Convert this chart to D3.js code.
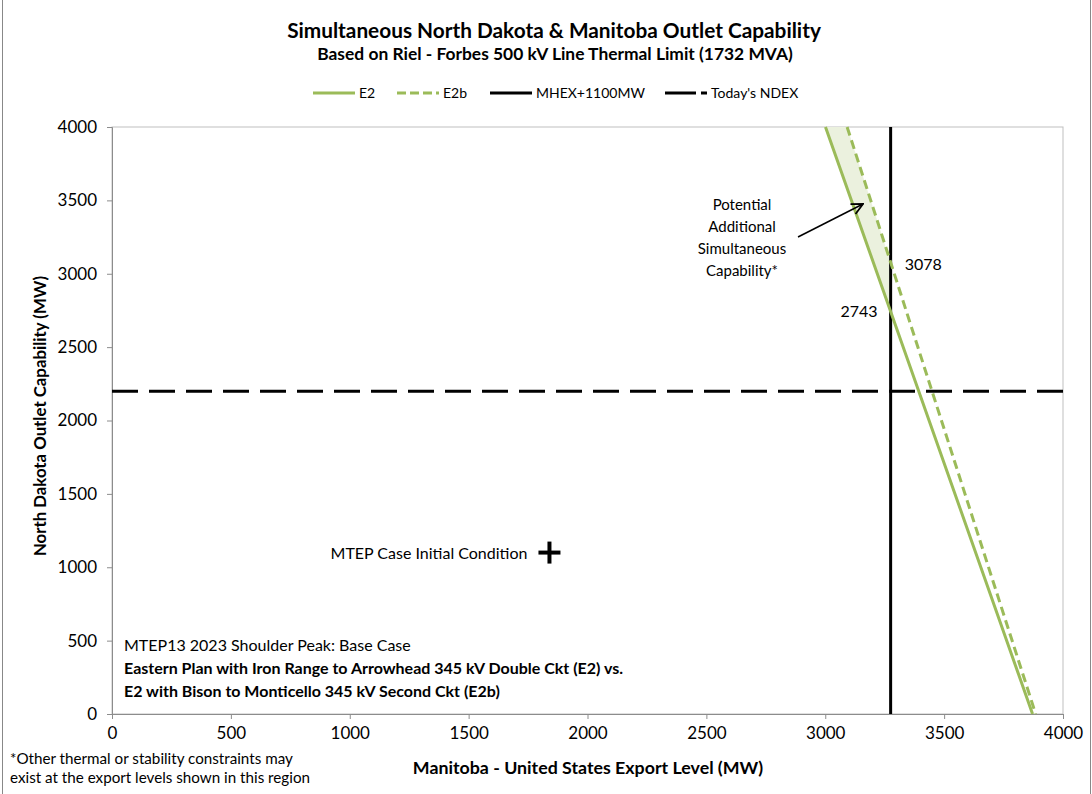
<!DOCTYPE html>
<html><head><meta charset="utf-8">
<script src="https://cdn.jsdelivr.net/npm/d3@7"></script>
<style>body{margin:0;background:#fff;font-family:Lato,"Open Sans",sans-serif;}</style>
</head><body><svg id="c" width="1092" height="794"></svg>
<script>
const xTicks = [0,500,1000,1500,2000,2500,3000,3500,4000];
const yTicks = [0,500,1000,1500,2000,2500,3000,3500,4000];
const e2X = [3001, 3275, 3872];
const e2Y = [4000, 2743, 0];
const e2bX = [3092, 3275, 3885];
const e2bY = [4000, 3078, 0];
const mhexX = [3275, 3275];
const mhexY = [0, 4000];
const ndexX = [0, 4000];
const ndexY = [2200, 2200];
const initX = [1840];
const initY = [1100];
const legendNames = ["E2","E2b","MHEX+1100MW","Today's NDEX"];

const svg = d3.select("#c");
const W=1092,H=794;
svg.append("rect").attr("x",2.5).attr("y",-2).attr("width",W-4).attr("height",H+4).attr("fill","#fff").attr("stroke","#888").attr("stroke-width",1);

const L=112,R=1063,T=127,B=714;
const x = d3.scaleLinear().domain([0,4000]).range([L,R]);
const y = d3.scaleLinear().domain([0,4000]).range([B,T]);

svg.append("rect").attr("x",L).attr("y",T).attr("width",R-L).attr("height",B-T).attr("fill","none").attr("stroke","#bfbfbf").attr("stroke-width",1);

const font = "Lato, 'Open Sans', sans-serif";
const gx = svg.append("g").attr("transform",`translate(0,${B})`).call(d3.axisBottom(x).tickValues(xTicks).tickFormat(d3.format("d")).tickSize(5).tickPadding(8));
const gy = svg.append("g").attr("transform",`translate(${L},0)`).call(d3.axisLeft(y).tickValues(yTicks).tickFormat(d3.format("d")).tickSize(5).tickPadding(10));
[gx,gy].forEach(g=>{
  g.selectAll("path,line").attr("stroke","#8c8c8c");
  g.selectAll("text").attr("font-size",17).attr("font-family",font).attr("fill","#000");
});

const fillPts = [[e2X[0],e2Y[0]],[e2bX[0],e2bY[0]],[e2bX[1],e2bY[1]],[e2X[1],e2Y[1]]];
const line = d3.line().x(d=>x(d[0])).y(d=>y(d[1]));
svg.append("path").attr("d",line(fillPts)+"Z").attr("fill","#ebf1de").attr("stroke","none");

const zip=(a,b)=>a.map((v,i)=>[v,b[i]]);
svg.append("path").attr("d",line(zip(ndexX,ndexY))).attr("stroke","#000").attr("stroke-width",3).attr("fill","none").attr("stroke-dasharray","26,11");
svg.append("path").attr("d",line(zip(mhexX,mhexY))).attr("stroke","#000").attr("stroke-width",3).attr("fill","none");
svg.append("path").attr("d",line(zip(e2X,e2Y))).attr("stroke","#9bbb59").attr("stroke-width",3).attr("fill","none");
svg.append("path").attr("d",line(zip(e2bX,e2bY))).attr("stroke","#9bbb59").attr("stroke-width",3).attr("fill","none").attr("stroke-dasharray","9,5");

initX.forEach((v,i)=>{
  const cx=x(v), cy=y(initY[i]);
  svg.append("line").attr("x1",cx-11).attr("x2",cx+11).attr("y1",cy).attr("y2",cy).attr("stroke","#000").attr("stroke-width",4);
  svg.append("line").attr("x1",cx).attr("x2",cx).attr("y1",cy-11).attr("y2",cy+11).attr("stroke","#000").attr("stroke-width",4);
  svg.append("text").attr("x",cx-22).attr("y",cy+6).attr("text-anchor","end").attr("font-size",16).attr("font-family",font).text("MTEP Case Initial Condition");
});

svg.append("text").attr("x",x(mhexX[0])+14).attr("y",y(e2bY[1])+8).attr("font-size",16).attr("font-family",font).text(String(e2bY[1]));
svg.append("text").attr("x",x(mhexX[0])-13).attr("y",y(e2Y[1])+6).attr("text-anchor","end").attr("font-size",16).attr("font-family",font).text(String(e2Y[1]));

const ann=["Potential","Additional","Simultaneous","Capability*"];
ann.forEach((t,i)=>svg.append("text").attr("x",742).attr("y",210+i*22).attr("text-anchor","middle").attr("font-size",15).attr("font-family",font).text(t));
svg.append("defs").append("marker").attr("id","ah").attr("viewBox","0 0 10 10").attr("refX",9).attr("refY",5).attr("markerWidth",14).attr("markerHeight",14).attr("markerUnits","userSpaceOnUse").attr("orient","auto")
  .append("path").attr("d","M1,1 L9,5 L1,9").attr("fill","none").attr("stroke","#000").attr("stroke-width",1.3);
svg.append("line").attr("x1",798).attr("y1",237).attr("x2",863).attr("y2",204).attr("stroke","#000").attr("stroke-width",1.5).attr("marker-end","url(#ah)");

svg.append("text").attr("x",124).attr("y",651).attr("font-size",16).attr("font-family",font).text("MTEP13 2023 Shoulder Peak: Base Case");
svg.append("text").attr("x",124).attr("y",674).attr("font-size",16).attr("font-weight","bold").attr("font-family",font).text("Eastern Plan with Iron Range to Arrowhead 345 kV Double Ckt (E2) vs.");
svg.append("text").attr("x",124).attr("y",697).attr("font-size",16).attr("font-weight","bold").attr("font-family",font).text("E2 with Bison to Monticello 345 kV Second Ckt (E2b)");

svg.append("text").attr("x",10).attr("y",764).attr("font-size",15.2).attr("font-family",font).text("*Other thermal or stability constraints may");
svg.append("text").attr("x",10).attr("y",783).attr("font-size",15.2).attr("font-family",font).text("exist at the export levels shown in this region");

svg.append("text").attr("x",588).attr("y",774).attr("text-anchor","middle").attr("font-size",17.8).attr("font-weight","bold").attr("font-family",font).text("Manitoba - United States Export Level (MW)");
svg.append("text").attr("transform","translate(46,416) rotate(-90)").attr("text-anchor","middle").attr("font-size",16.8).attr("font-weight","bold").attr("font-family",font).text("North Dakota Outlet Capability (MW)");

svg.append("text").attr("x",554).attr("y",38).attr("text-anchor","middle").attr("font-size",20.8).attr("font-weight","bold").attr("font-family",font).text("Simultaneous North Dakota & Manitoba Outlet Capability");
svg.append("text").attr("x",555).attr("y",60).attr("text-anchor","middle").attr("font-size",17.4).attr("font-weight","bold").attr("font-family",font).text("Based on Riel - Forbes 500 kV Line Thermal Limit (1732 MVA)");

const leg=[{x:313,c:"#9bbb59",d:null},{x:397,c:"#9bbb59",d:"9,4"},{x:490,c:"#000",d:null},{x:665,c:"#000",d:"31,5"}];
leg.forEach((l,i)=>{
  const g=svg.append("g");
  g.append("line").attr("x1",l.x).attr("x2",l.x+42).attr("y1",93).attr("y2",93).attr("stroke",l.c).attr("stroke-width",3).attr("stroke-dasharray",l.d);
  g.append("text").attr("x",l.x+46).attr("y",98).attr("font-size",14).attr("font-family",font).text(legendNames[i]);
});
</script></body></html>
